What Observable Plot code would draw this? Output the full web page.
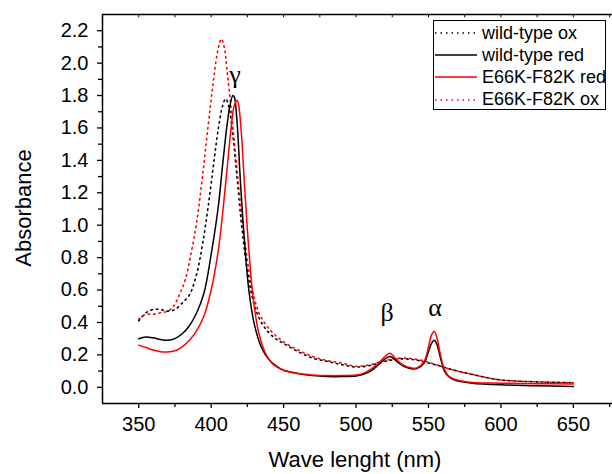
<!DOCTYPE html>
<html>
<head>
<meta charset="utf-8">
<script src="https://cdn.jsdelivr.net/npm/d3@7"></script>
<script src="https://cdn.jsdelivr.net/npm/@observablehq/plot@0.6"></script>
<style>
  html, body { margin: 0; padding: 0; background: #fff; }
  #wrap { position: relative; width: 612px; height: 474px; font-family: Arial, "Liberation Sans", sans-serif; }
  #legend { position: absolute; left: 433px; top: 20px; width: 173px; height: 90px; border: 1.2px solid #000; background: #fff; box-sizing: border-box; }
  #legend .row { position: absolute; left: 1px; height: 22px; display: flex; align-items: center; font-size: 18px; color: #000; white-space: nowrap; }
  #legend svg { margin-right: 5px; }
</style>
</head>
<body>
<div id="wrap"></div>
<script>
// ---- data ----
const wtOxNm  = [350,355,360,365,370,375,380,385,390,394,398,402,405,408,410,412,415,418,421,425,430,436,443,450,460,470,480,490,500,510,520,530,540,550,560,570,580,590,600,620,640,650];
const wtOxAbs = [0.41,0.46,0.48,0.48,0.47,0.48,0.52,0.57,0.70,0.88,1.12,1.40,1.60,1.74,1.78,1.74,1.55,1.28,1.00,0.72,0.50,0.38,0.31,0.27,0.22,0.18,0.16,0.14,0.125,0.135,0.16,0.175,0.17,0.15,0.125,0.10,0.08,0.06,0.045,0.035,0.03,0.028];

const wtRedNm  = [350,355,360,365,370,375,380,385,390,395,400,405,408,411,413,415,416,418,420,423,426,430,435,440,445,450,460,470,480,490,500,505,510,515,520,523,525,528,533,538,542,547,550,552,554,556,558,561,564,568,572,580,600,625,650];
const wtRedAbs = [0.30,0.31,0.305,0.295,0.29,0.30,0.33,0.38,0.46,0.58,0.82,1.12,1.38,1.62,1.74,1.80,1.79,1.62,1.30,0.90,0.60,0.38,0.24,0.17,0.13,0.105,0.085,0.072,0.066,0.066,0.07,0.08,0.10,0.135,0.175,0.19,0.185,0.16,0.13,0.115,0.115,0.15,0.22,0.27,0.29,0.26,0.19,0.10,0.065,0.045,0.035,0.025,0.015,0.01,0.005];

const mutRedNm  = [350,355,360,365,370,375,380,385,390,395,400,405,408,411,414,416,418,419,421,423,426,429,433,438,443,450,460,470,480,490,500,505,510,515,520,523,525,528,533,538,542,547,550,552,554,556,558,561,564,568,572,580,600,625,650];
const mutRedAbs = [0.26,0.245,0.23,0.22,0.218,0.225,0.25,0.29,0.35,0.44,0.60,0.85,1.08,1.35,1.62,1.74,1.77,1.74,1.55,1.25,0.85,0.55,0.33,0.20,0.14,0.105,0.085,0.076,0.072,0.072,0.076,0.086,0.11,0.145,0.19,0.21,0.20,0.17,0.135,0.12,0.12,0.16,0.25,0.32,0.345,0.30,0.21,0.11,0.07,0.05,0.04,0.03,0.025,0.022,0.02];

const mutOxNm  = [350,355,360,365,370,374,378,382,386,390,394,398,401,404,406,407,409,411,414,417,420,424,428,433,440,450,460,470,480,490,500,510,520,530,540,550,560,570,580,590,600,620,640,650];
const mutOxAbs = [0.42,0.45,0.45,0.46,0.47,0.50,0.57,0.66,0.82,1.02,1.30,1.62,1.85,2.05,2.13,2.15,2.10,1.95,1.70,1.42,1.15,0.85,0.62,0.46,0.36,0.28,0.23,0.19,0.165,0.15,0.13,0.14,0.165,0.18,0.175,0.155,0.125,0.10,0.08,0.06,0.045,0.035,0.03,0.028];

const seriesNames = ["wild-type ox", "wild-type red", "E66K-F82K red", "E66K-F82K ox"];

const yTicks = [0.0,0.2,0.4,0.6,0.8,1.0,1.2,1.4,1.6,1.8,2.0,2.2];
const yMinor = [0.1,0.3,0.5,0.7,0.9,1.1,1.3,1.5,1.7,1.9,2.1];
const xTicks = [350,400,450,500,550,600,650];
const xMinor = [375,425,475,525,575,625,675];

const peakLabels = ["γ", "β", "α"];
const peakNm     = [416.5, 521.5, 554.5];
const peakAbs    = [1.93, 0.46, 0.49];

// ---- build ----
const mk = (nm, abs) => nm.map((x, i) => ({x, y: abs[i]}));
const wtOx = mk(wtOxNm, wtOxAbs);
const wtRed = mk(wtRedNm, wtRedAbs);
const mutRed = mk(mutRedNm, mutRedAbs);
const mutOx = mk(mutOxNm, mutOxAbs);
const peaks = peakLabels.map((t, i) => ({t, x: peakNm[i], y: peakAbs[i]}));

const X0 = 325, X1 = 677, Y0 = -0.1, Y1 = 2.3;
const dots = "1.5,4";
const font = "Arial, 'Liberation Sans', sans-serif";

const chart = Plot.plot({
  width: 612,
  height: 474,
  marginLeft: 102,
  marginRight: 0,
  marginTop: 14,
  marginBottom: 71,
  style: {fontFamily: font, color: "#000", background: "#fff"},
  x: {domain: [X0, X1]},
  y: {domain: [Y0, Y1]},
  marks: [
    // frame lines
    Plot.ruleX([X0], {stroke: "#000", strokeWidth: 1.5}),
    Plot.ruleY([Y0], {stroke: "#000", strokeWidth: 1.5}),
    Plot.ruleY([Y1], {stroke: "#000", strokeWidth: 1.5}),
    // top inward ticks
    Plot.ruleX(xTicks.concat(xMinor), {x: d => d, y1: Y1, y2: Y1 - 0.02, stroke: "#000", strokeWidth: 1}),
    // axes
    Plot.axisY({ticks: yTicks, tickSize: 5, tickPadding: 9, tickFormat: d3.format(".1f"), fontSize: 20, label: null, strokeWidth: 1.3}),
    Plot.axisY({ticks: yMinor, tickSize: 4, tickFormat: () => "", label: null, strokeWidth: 1.3}),
    Plot.axisX({ticks: xTicks, tickSize: 5, tickPadding: 8, fontSize: 20, label: null, strokeWidth: 1.3}),
    Plot.axisX({ticks: xMinor, tickSize: 4, tickFormat: () => "", label: null, strokeWidth: 1.3}),
    // curves
    Plot.line(wtOx, {x: "x", y: "y", stroke: "#000", strokeWidth: 1.6, strokeDasharray: dots, curve: "catmull-rom"}),
    Plot.line(mutOx, {x: "x", y: "y", stroke: "#ff0000", strokeWidth: 1.6, strokeDasharray: dots, curve: "catmull-rom"}),
    Plot.line(wtRed, {x: "x", y: "y", stroke: "#000", strokeWidth: 1.5, curve: "catmull-rom"}),
    Plot.line(mutRed, {x: "x", y: "y", stroke: "#ff0000", strokeWidth: 1.5, curve: "catmull-rom"}),
    // peak labels
    Plot.text(peaks, {x: "x", y: "y", text: "t", fontSize: 26, fontFamily: "'Liberation Serif', 'DejaVu Serif', serif", fill: "#000"})
  ]
});

const wrap = document.getElementById("wrap");
wrap.appendChild(chart);

// axis titles
const svg = d3.select(chart);
svg.append("text").attr("transform", "translate(25,208) rotate(-90)").attr("text-anchor", "middle")
  .attr("dominant-baseline", "middle").attr("font-size", 22).attr("font-family", font).attr("fill", "#000").text("Absorbance");
svg.append("text").attr("x", 355).attr("y", 467).attr("text-anchor", "middle")
  .attr("font-size", 22).attr("font-family", font).attr("fill", "#000").text("Wave lenght (nm)");

// legend
const legendStyles = [
  {stroke: "#000", dash: dots},
  {stroke: "#000", dash: null},
  {stroke: "#ff0000", dash: null},
  {stroke: "#ff0000", dash: dots}
];
const legend = document.createElement("div");
legend.id = "legend";
seriesNames.forEach((name, i) => {
  const row = document.createElement("div");
  row.className = "row";
  row.style.top = (1 + i * 22.2) + "px";
  const s = legendStyles[i];
  row.innerHTML = `<svg width="42" height="6"><line x1="0" x2="42" y1="3" y2="3" stroke="${s.stroke}" stroke-width="1.6" ${s.dash ? `stroke-dasharray="${s.dash}"` : ""}/></svg><span>${name}</span>`;
  legend.appendChild(row);
});
wrap.appendChild(legend);
</script>
</body>
</html>
